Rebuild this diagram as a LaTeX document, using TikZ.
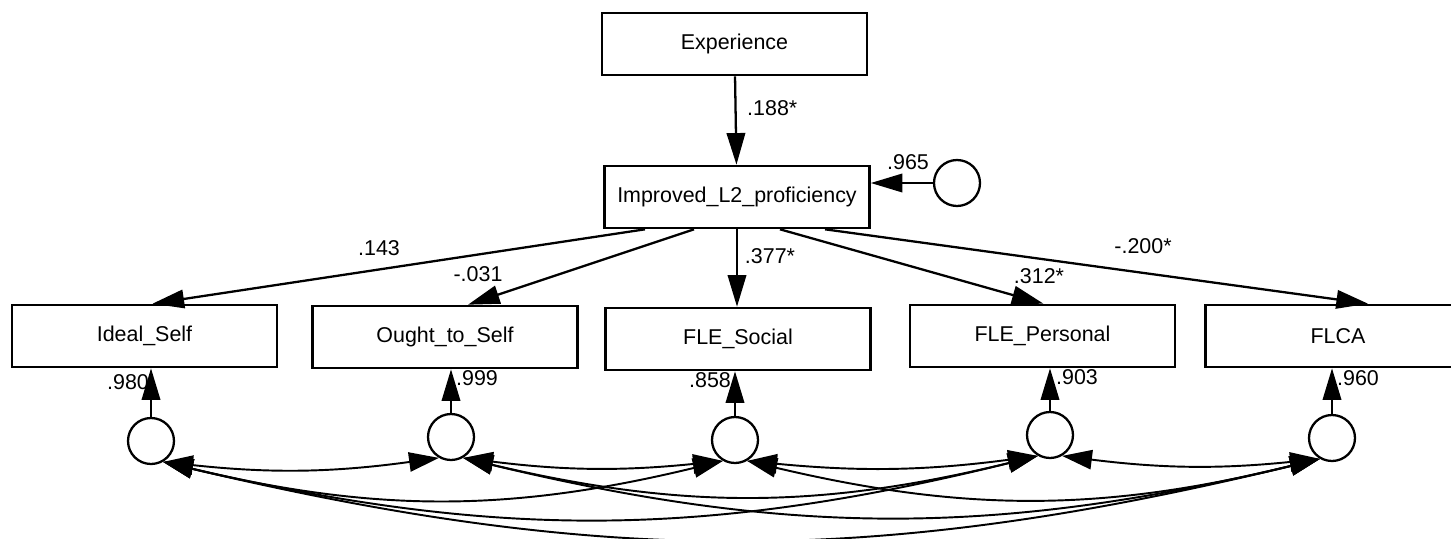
\documentclass[tikz,border=0pt]{standalone}
\usepackage{fontspec}
\setmainfont{Liberation Sans}
\usetikzlibrary{arrows.meta,calc}

\begin{document}
\begin{tikzpicture}[x=0.02cm,y=-0.02cm,
  font=\fontsize{12.2}{14}\selectfont,
  var/.style={draw,line width=1.5pt,minimum width=5.3cm,minimum height=1.24cm,inner sep=0pt},
  err/.style={draw,circle,line width=1.3pt,minimum size=0.92cm,inner sep=0pt},
  reg/.style={-{Triangle[length=18pt,width=10.5pt]},line width=1.3pt},
  cov/.style={{Triangle[length=17pt,width=11pt]}-{Triangle[length=17pt,width=11pt]},line width=1.1pt}]
\path[use as bounding box,clip] (0,0) rectangle (1451,538);
\node[var] (exp) at (734.5,44) {Experience};
\node[var] (improved) at (737,197) {Improved\_L2\_proficiency};
\node[err] (e0) at (957,183) {};
\node[var] (ideal) at (144.5,336) {Ideal\_Self};
\node[var] (ought) at (445,337) {Ought\_to\_Self};
\node[var] (social) at (738,339) {FLE\_Social};
\node[var] (personal) at (1042.5,336) {FLE\_Personal};
\node[var] (flca) at (1338,336) {FLCA};
\node[err] (e1) at (151,441) {};
\node[err] (e2) at (451,437) {};
\node[err] (e3) at (735,440) {};
\node[err] (e4) at (1050,435) {};
\node[err] (e5) at (1332,438) {};
\draw[reg] (exp) -- (improved);
\node[anchor=west] at (741,108) {.188*};
\draw[reg] (e0) -- (e0 -| improved.east);
\node at (908,162) {.965};
\draw[reg] ($(improved.south)+(-92,0)$) -- ($(ideal.north)+(8,0)$);
\draw[reg] ($(improved.south)+(-43,0)$) -- ($(ought.north)+(23,0)$);
\draw[reg] (improved.south) -- (improved.south |- social.north);
\draw[reg] ($(improved.south)+(43,0)$) -- ($(personal.north)+(1,0)$);
\draw[reg] ($(improved.south)+(88,0)$) -- ($(flca.north)+(30,0)$);
\node at (379,248) {.143};
\node at (478,274) {-.031};
\node at (770,256) {.377*};
\node at (1039,276) {.312*};
\node at (1143,246) {-.200*};
\draw[reg] (e1) -- (e1 |- ideal.south);
\draw[reg] (e2) -- (e2 |- ought.south);
\draw[reg] (e3) -- (e3 |- social.south);
\draw[reg] (e4) -- (e4 |- personal.south);
\draw[reg] (e5) -- (e5 |- flca.south);
\node at (128,382) {.980};
\node at (477,378) {.999};
\node at (710,380) {.858};
\node at (1077,377) {.903};
\node at (1358,378) {.960};
\draw[cov] (e1.-60) to[bend right=7] (e2.-120);
\draw[cov] (e1.-60) to[bend right=13.5] (e3.-120);
\draw[cov] (e1.-60) to[bend right=13.5] (e4.-120);
\draw[cov] (e1.-60) to[bend right=13.5] (e5.-120);
\draw[cov] (e2.-60) to[bend right=6.5] (e3.-120);
\draw[cov] (e2.-60) to[bend right=13.5] (e4.-120);
\draw[cov] (e2.-60) to[bend right=13.5] (e5.-120);
\draw[cov] (e3.-60) to[bend right=6.5] (e4.-120);
\draw[cov] (e3.-60) to[bend right=13.5] (e5.-120);
\draw[cov] (e4.-60) to[bend right=6.5] (e5.-120);
\end{tikzpicture}
\end{document}
